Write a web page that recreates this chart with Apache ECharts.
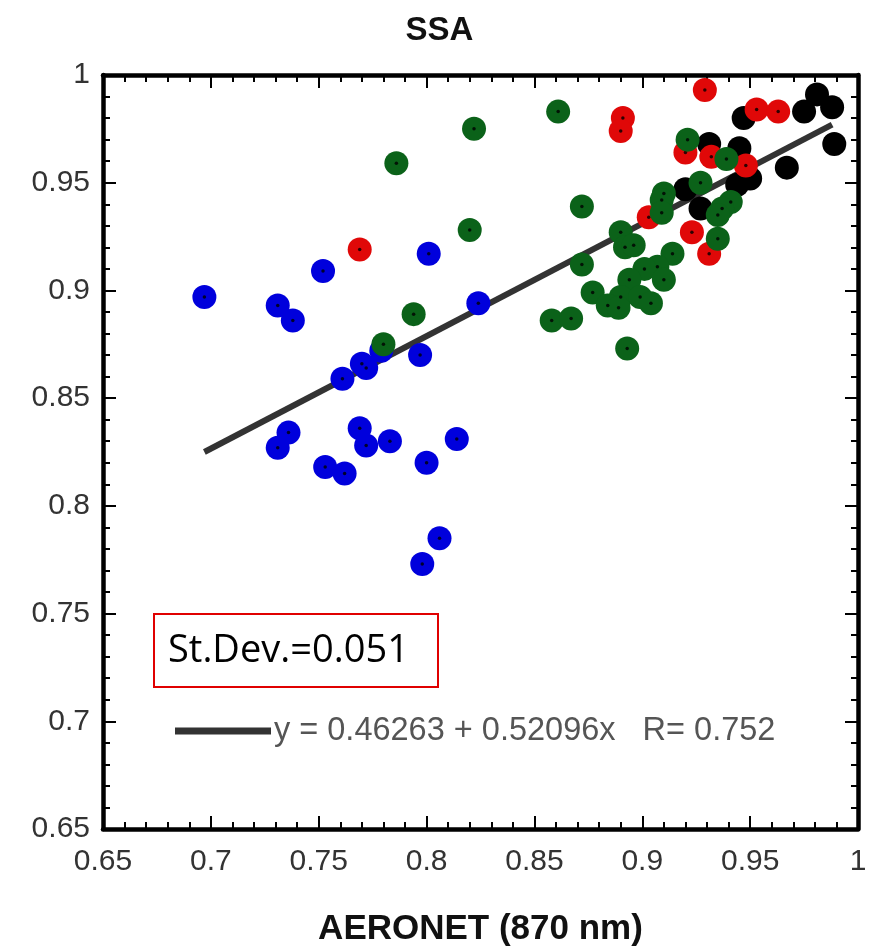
<!DOCTYPE html>
<html><head><meta charset="utf-8">
<script src="https://cdn.jsdelivr.net/npm/echarts@6/dist/echarts.min.js"></script>
<style>html,body{margin:0;padding:0;background:#fff}#c{width:879px;height:952px}</style>
</head><body><div id="c"></div>
<script>
// ---- data ----
const xTicks = [0.65, 0.7, 0.75, 0.8, 0.85, 0.9, 0.95, 1];
const yTicks = [0.65, 0.7, 0.75, 0.8, 0.85, 0.9, 0.95, 1];

const bluePoints = [
  [0.697,0.897],[0.752,0.909],[0.731,0.893],[0.738,0.886],[0.801,0.917],[0.824,0.894],
  [0.779,0.872],[0.770,0.866],[0.772,0.864],[0.761,0.859],[0.797,0.870],[0.736,0.834],
  [0.731,0.827],[0.769,0.836],[0.772,0.828],[0.783,0.830],[0.814,0.831],[0.800,0.820],
  [0.753,0.818],[0.762,0.815],[0.806,0.785],[0.798,0.773]
];
const redPoints = [
  [0.769,0.919],[0.929,0.993],[0.891,0.980],[0.890,0.974],[0.953,0.984],[0.963,0.983],
  [0.920,0.964],[0.932,0.962],[0.948,0.958],[0.903,0.934],[0.923,0.927],[0.931,0.917]
];
const greenPoints = [
  [0.786,0.959],[0.822,0.975],[0.861,0.983],[0.872,0.939],[0.820,0.928],[0.794,0.889],
  [0.780,0.875],[0.872,0.912],[0.921,0.970],[0.939,0.961],[0.927,0.950],[0.910,0.945],
  [0.909,0.942],[0.909,0.936],[0.941,0.941],[0.937,0.938],[0.935,0.935],[0.935,0.924],
  [0.890,0.927],[0.892,0.920],[0.896,0.921],[0.914,0.917],[0.907,0.911],[0.901,0.910],
  [0.910,0.905],[0.894,0.905],[0.877,0.899],[0.890,0.897],[0.899,0.897],[0.884,0.893],
  [0.889,0.892],[0.904,0.894],[0.858,0.886],[0.867,0.887],[0.893,0.873]
];
const blackPoints = [
  [0.981,0.991],[0.988,0.985],[0.975,0.983],[0.947,0.980],[0.989,0.968],[0.931,0.968],
  [0.945,0.966],[0.967,0.957],[0.950,0.952],[0.920,0.947],[0.944,0.949],[0.927,0.938]
];
const fitLine = [[0.697,0.825],[0.988,0.977]];
const fitText = 'y = 0.46263 + 0.52096x   R= 0.752';
const stdText = 'St.Dev.=0.051';
const titleText = 'SSA';
const xName = 'AERONET (870 nm)';

// ---- chart ----
const chart = echarts.init(document.getElementById('c'), null, {renderer:'canvas'});
const labelFont = {fontFamily:'Liberation Sans', fontSize:30, color:'#333'};
const fmt = v => String(+v.toFixed(2));
function axisBase(extra){
  return Object.assign({
    type:'value', min:0.65, max:1, interval:0.05,
    axisLine:{show:true, onZero:false, lineStyle:{color:'#000', width:4.5}},
    axisTick:{show:true, inside:true, length:13, lineStyle:{color:'#000', width:2}},
    minorTick:{show:true, splitNumber:5, length:7, lineStyle:{color:'#000', width:2}},
    splitLine:{show:false}, minorSplitLine:{show:false}
  }, extra);
}
const big = 24;
function scat(data, color, z){
  return {type:'scatter', data, symbol:'circle', symbolSize:big, itemStyle:{color, opacity:1}, z, silent:true, animation:false};
}
function dots(data, z){
  return {type:'scatter', data, symbol:'circle', symbolSize:3.5, itemStyle:{color:'#000'}, z, silent:true, animation:false};
}
chart.setOption({
  animation:false,
  backgroundColor:'#fff',
  title:{text:titleText, left:'center', top:9, textStyle:{fontFamily:'Liberation Sans', fontWeight:'bold', fontSize:33, color:'#111'}},
  grid:{left:103, right:21, top:75, bottom:120},
  xAxis:[
    axisBase({position:'bottom', name:xName, nameLocation:'middle', nameGap:83,
      nameTextStyle:{fontFamily:'Liberation Sans', fontWeight:'bold', fontSize:35, color:'#111'},
      axisLabel:Object.assign({margin:18, formatter:fmt}, labelFont)}),
    axisBase({position:'top', axisLabel:{show:false}})
  ],
  yAxis:[
    axisBase({position:'left', axisLabel:Object.assign({margin:13, formatter:fmt}, labelFont)}),
    axisBase({position:'right', axisLabel:{show:false}})
  ],
  series:[
    {type:'line', data:fitLine, symbol:'none', lineStyle:{color:'#333', width:6}, z:1, silent:true},
    scat(blackPoints, '#000', 2),
    scat(bluePoints, '#0000dc', 3), dots(bluePoints, 3),
    scat(redPoints, '#e00808', 4), dots(redPoints, 4),
    scat(greenPoints, '#0b6219', 5), dots(greenPoints, 5)
  ],
  graphic:[
    {type:'rect', shape:{x:154, y:614, width:284, height:73}, style:{fill:'#fff', stroke:'#e00000', lineWidth:2}, z:10},
    {type:'text', x:168, y:651, style:{text:stdText, fontFamily:'Open Sans', fontSize:38, fill:'#000', verticalAlign:'middle', textVerticalAlign:'middle'}, z:11},
    {type:'line', shape:{x1:175, y1:731, x2:271, y2:731}, style:{stroke:'#333', lineWidth:7}, z:10},
    {type:'text', x:274, y:731, style:{text:fitText, fontFamily:'Liberation Sans', fontSize:32.5, fill:'#555', verticalAlign:'middle', textVerticalAlign:'middle'}, z:11}
  ]
});
</script>
</body></html>
